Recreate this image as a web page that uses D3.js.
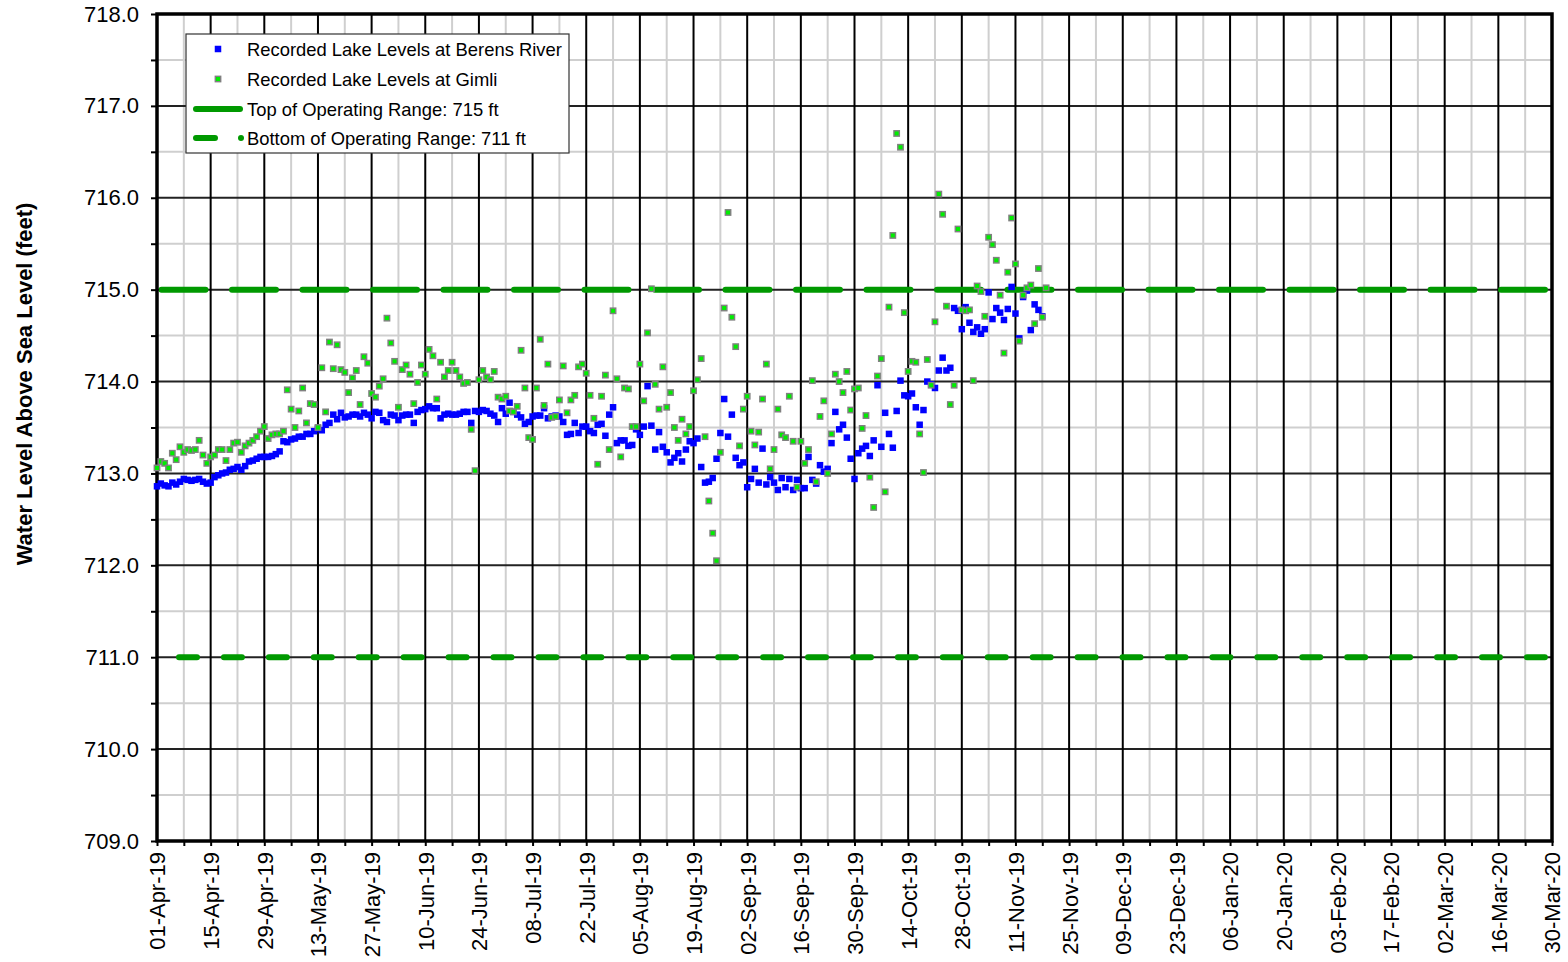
<!DOCTYPE html>
<html><head><meta charset="utf-8">
<script src="https://cdn.jsdelivr.net/npm/d3@7"></script>
<style>
body{margin:0;background:#fff;}
svg{display:block;font-family:Arial,"Liberation Sans",sans-serif;}
</style>
</head><body>
<svg id="chart" width="1568" height="962"></svg>
<script>
// ---------- DATA ----------
const startDate = "2019-04-01";   // first day of both daily series
const endDate = "2020-03-30";     // end of x axis
const tickStepDays = 14;

const berensRiver = [
712.86,712.89,712.87,712.86,712.90,712.88,712.91,712.94,712.93,712.92,
712.93,712.94,712.91,712.89,712.90,712.96,712.98,713.00,713.01,713.04,
713.05,713.07,713.04,713.08,713.13,713.14,713.16,713.18,713.18,713.18,
713.19,713.21,713.24,713.35,713.34,713.37,713.38,713.40,713.40,713.43,
713.43,713.46,713.49,713.47,713.53,713.55,713.64,713.59,713.66,713.61,
713.62,713.64,713.64,713.62,713.66,713.64,713.60,713.67,713.66,713.58,
713.56,713.64,713.63,713.58,713.63,713.64,713.64,713.55,713.67,713.69,
713.70,713.73,
713.71,713.71,713.60,713.64,713.65,713.64,713.64,713.65,713.67,713.67,
713.55,713.68,713.67,713.69,713.68,713.65,713.63,713.56,713.71,713.65,
713.77,713.67,713.64,713.61,713.54,713.56,713.62,713.63,713.63,713.71,
713.60,713.62,713.63,713.62,713.56,713.42,713.43,713.55,713.44,713.51,
713.51,713.46,713.44,713.53,713.54,713.41,713.64,713.72,713.33,713.36,
713.36,713.30,713.31,713.48,713.42,713.51,713.95,713.52,713.26,713.45,
713.29,713.23,713.12,713.17,713.22,713.13,713.26,713.35,
713.33,713.38,713.07,712.90,712.91,712.95,713.16,713.44,713.81,713.40,
713.64,713.17,713.09,713.12,712.85,712.94,713.05,712.90,713.27,712.88,
712.96,712.90,712.82,712.95,712.85,712.94,712.82,712.93,712.84,712.84,
713.18,712.93,712.89,713.09,713.02,713.05,713.33,713.67,713.48,713.53,
713.39,713.16,712.94,713.22,713.27,713.30,713.19,713.36,713.96,713.29,
713.66,713.43,713.28,713.68,714.01,713.85,713.84,713.87,713.72,713.53,
713.69,714.00,713.97,713.93,714.12,714.26,714.12,714.15,714.80,714.77,
714.57,714.81,714.64,714.54,714.59,714.52,714.57,714.97,714.68,714.80,
714.75,714.67,714.79,715.03,714.74,714.47,714.92,714.99,714.56,714.84,
714.78,714.71
];

const gimli = [
713.06,713.13,713.11,713.06,713.22,713.15,713.29,713.23,713.26,713.25,
713.26,713.36,713.20,713.11,713.18,713.20,713.26,713.26,713.14,713.26,
713.33,713.34,713.23,713.30,713.33,713.36,713.40,713.46,713.51,713.38,
713.42,713.43,713.43,713.46,713.91,713.70,713.50,713.68,713.93,713.55,
713.76,713.75,713.50,714.15,713.67,714.43,714.14,714.40,714.13,714.10,
713.88,714.04,714.12,713.75,714.27,714.20,713.87,713.83,713.95,714.03,
714.69,714.42,714.22,713.72,714.13,714.18,714.08,713.76,713.99,714.18,
714.08,714.35,
714.28,713.81,714.21,714.05,714.12,714.21,714.12,714.05,713.98,713.99,
713.48,713.03,714.02,714.12,714.05,714.02,714.11,713.83,713.81,713.84,
713.68,713.67,713.73,714.34,713.93,713.39,713.37,713.93,714.46,713.74,
714.19,713.61,713.62,713.80,714.17,713.66,713.80,713.85,714.16,714.19,
714.09,713.85,713.60,713.10,713.84,714.07,713.26,714.77,714.03,713.18,
713.93,713.92,713.51,713.51,714.19,713.79,714.53,715.01,713.97,713.70,
714.16,713.72,713.88,713.50,713.36,713.59,713.43,713.51,713.90,714.02,
714.25,713.40,712.70,712.35,712.05,713.23,714.80,715.84,714.70,714.38,
713.30,713.70,713.84,713.46,713.31,713.45,713.81,714.19,713.05,713.26,
713.70,713.42,713.39,713.84,713.35,712.85,713.35,713.11,713.26,714.01,
712.91,713.62,713.79,713.00,713.43,714.08,714.00,713.88,714.11,713.69,
713.92,713.93,713.49,713.63,712.96,712.63,714.06,714.25,712.80,714.81,
715.59,716.70,716.55,714.75,714.11,714.22,714.21,713.43,713.01,714.24,
713.96,714.65,716.04,715.82,714.82,713.75,713.96,715.66,714.78,714.77,
714.78,714.01,715.04,714.98,714.71,715.57,715.49,715.32,714.94,714.31,
715.19,715.78,715.28,714.44,714.94,715.02,715.05,714.63,715.23,714.70,
715.02
];

const topOfRange = 715;
const bottomOfRange = 711;
const yTickValues = [709,710,711,712,713,714,715,716,717,718];
const yMinorValues = [709.5,710.5,711.5,712.5,713.5,714.5,715.5,716.5,717.5];
const legendLabels = [
  "Recorded Lake Levels at Berens River",
  "Recorded Lake Levels at Gimli",
  "Top of Operating Range: 715 ft",
  "Bottom of Operating Range: 711 ft"
];
const yAxisTitle = "Water Level Above Sea Level (feet)";

// ---------- LAYOUT ----------
const W = 1568, H = 962;
const m = {left:157, right:16, top:14, bottom:121};
const svg = d3.select("#chart");
const parse = d3.utcParse("%Y-%m-%d");
const t0 = parse(startDate), t1 = parse(endDate);

const x = d3.scaleUtc().domain([t0, t1]).range([m.left, W - m.right]);
const y = d3.scaleLinear().domain([709, 718]).range([H - m.bottom, m.top]);

const nTicks = Math.round((t1 - t0) / 864e5 / tickStepDays);
const majorDates = d3.range(nTicks + 1).map(i => d3.utcDay.offset(t0, i * tickStepDays));
const minorDates = d3.range(nTicks).map(i => d3.utcDay.offset(t0, i * tickStepDays + tickStepDays / 2));
const fmt = d3.utcFormat("%d-%b-%y");

const GREEN_LINE = "#009900";

// minor gridlines
const g = svg.append("g");
g.selectAll(".vmin").data(minorDates).join("line")
  .attr("x1", d => x(d)).attr("x2", d => x(d))
  .attr("y1", y(709)).attr("y2", y(718))
  .attr("stroke", "#cfcfcf").attr("stroke-width", 2);
g.selectAll(".hmin").data(yMinorValues).join("line")
  .attr("x1", x(t0)).attr("x2", x(t1))
  .attr("y1", d => y(d)).attr("y2", d => y(d))
  .attr("stroke", "#cfcfcf").attr("stroke-width", 2);
// major gridlines
g.selectAll(".hmaj").data(yTickValues).join("line")
  .attr("x1", x(t0)).attr("x2", x(t1))
  .attr("y1", d => y(d)).attr("y2", d => y(d))
  .attr("stroke", "#222").attr("stroke-width", 2);
g.selectAll(".vmaj").data(majorDates).join("line")
  .attr("x1", d => x(d)).attr("x2", d => x(d))
  .attr("y1", y(709)).attr("y2", y(718))
  .attr("stroke", "#000").attr("stroke-width", 2);

// operating range lines
svg.append("line")
  .attr("x1", x(t0)).attr("x2", x(t1))
  .attr("y1", y(topOfRange)).attr("y2", y(topOfRange))
  .attr("stroke", GREEN_LINE).attr("stroke-width", 6)
  .attr("stroke-linecap", "round")
  .attr("stroke-dasharray", "44 26.5").attr("stroke-dashoffset", 66);
svg.append("line")
  .attr("x1", x(t0)).attr("x2", x(t1))
  .attr("y1", y(bottomOfRange)).attr("y2", y(bottomOfRange))
  .attr("stroke", GREEN_LINE).attr("stroke-width", 6)
  .attr("stroke-linecap", "round")
  .attr("stroke-dasharray", "18 26.93").attr("stroke-dashoffset", 22.93);

// axes
const xAxis = d3.axisBottom(x).tickValues(majorDates).tickSize(5).tickFormat(fmt);
const gx = svg.append("g").attr("transform", `translate(0,${H - m.bottom})`).call(xAxis);
gx.select(".domain").remove();
gx.selectAll(".tick line").attr("stroke", "#000").attr("stroke-width", 2);
gx.selectAll(".tick text")
  .attr("font-size", 22).attr("fill", "#000")
  .attr("text-anchor", "end")
  .attr("transform", "translate(0,3) rotate(-90)")
  .attr("x", -8).attr("y", 0).attr("dy", "0.36em");
svg.append("g").attr("transform", `translate(0,${H - m.bottom})`)
  .call(d3.axisBottom(x).tickValues(minorDates).tickSize(5).tickFormat(""))
  .call(s => s.select(".domain").remove())
  .selectAll(".tick line").attr("stroke", "#000").attr("stroke-width", 2);

const yAxis = d3.axisLeft(y).tickValues(yTickValues).tickSize(6).tickFormat(d3.format(".1f"));
const gy = svg.append("g").attr("transform", `translate(${m.left},0)`).call(yAxis);
gy.select(".domain").remove();
gy.selectAll(".tick line").attr("stroke", "#000").attr("stroke-width", 2);
gy.selectAll(".tick text").attr("font-size", 22).attr("fill", "#000").attr("x", -18);
svg.append("g").attr("transform", `translate(${m.left},0)`)
  .call(d3.axisLeft(y).tickValues(yMinorValues).tickSize(6).tickFormat(""))
  .call(s => s.select(".domain").remove())
  .selectAll(".tick line").attr("stroke", "#000").attr("stroke-width", 2);

// plot border
svg.append("rect")
  .attr("x", x(t0)).attr("y", y(718))
  .attr("width", x(t1) - x(t0)).attr("height", y(709) - y(718))
  .attr("fill", "none").attr("stroke", "#000").attr("stroke-width", 3.5);

// scatter points
const S = 6.5;
svg.append("g").selectAll("rect").data(berensRiver).join("rect")
  .attr("x", (d, i) => x(d3.utcDay.offset(t0, i)) - S / 2)
  .attr("y", d => y(d) - S / 2)
  .attr("width", S).attr("height", S)
  .attr("fill", "#0000ff");
const SG = 5.4;
svg.append("g").selectAll("rect").data(gimli).join("rect")
  .attr("x", (d, i) => x(d3.utcDay.offset(t0, i)) - SG / 2)
  .attr("y", d => y(d) - SG / 2)
  .attr("width", SG).attr("height", SG)
  .attr("fill", "#00ee00").attr("stroke", "#808080").attr("stroke-width", 1.4);

// y axis title
svg.append("text")
  .attr("transform", "translate(32,384) rotate(-90)")
  .attr("text-anchor", "middle")
  .attr("font-size", 22).attr("font-weight", "bold")
  .text(yAxisTitle);

// legend
const lg = svg.append("g");
lg.append("rect").attr("x", 186).attr("y", 34).attr("width", 383).attr("height", 119)
  .attr("fill", "#fff").attr("stroke", "#333").attr("stroke-width", 1.2);
const rowY = [49, 79, 109, 138];
lg.append("rect").attr("x", 218 - S / 2).attr("y", rowY[0] - S / 2).attr("width", S).attr("height", S).attr("fill", "#0000ff");
lg.append("rect").attr("x", 218 - SG / 2).attr("y", rowY[1] - SG / 2).attr("width", SG).attr("height", SG)
  .attr("fill", "#00ee00").attr("stroke", "#808080").attr("stroke-width", 1.4);
lg.append("line").attr("x1", 196).attr("x2", 240).attr("y1", rowY[2]).attr("y2", rowY[2])
  .attr("stroke", GREEN_LINE).attr("stroke-width", 6).attr("stroke-linecap", "round");
lg.append("line").attr("x1", 196).attr("x2", 215).attr("y1", rowY[3]).attr("y2", rowY[3])
  .attr("stroke", GREEN_LINE).attr("stroke-width", 6).attr("stroke-linecap", "round");
lg.append("circle").attr("cx", 241).attr("cy", rowY[3]).attr("r", 3).attr("fill", GREEN_LINE);
lg.selectAll("text.lab").data(legendLabels).join("text")
  .attr("x", 247).attr("y", (d, i) => rowY[i]).attr("dy", "0.36em")
  .attr("font-size", 18.4).attr("fill", "#000")
  .text(d => d);
</script>
</body></html>
